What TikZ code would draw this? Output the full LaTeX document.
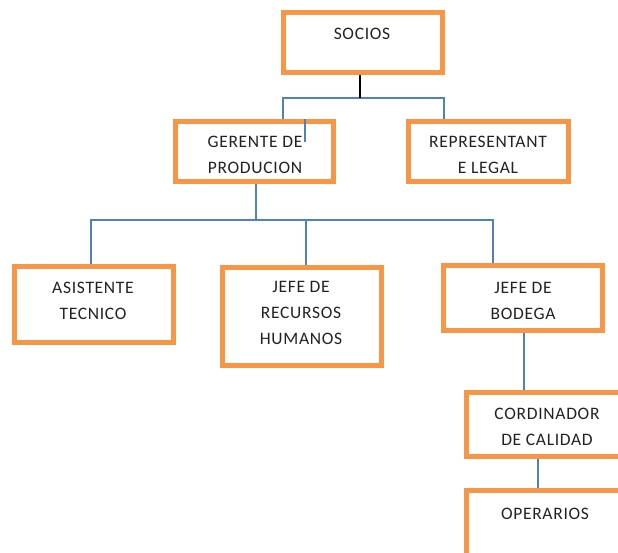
\documentclass[tikz,border=0pt]{standalone}
\usepackage{fontspec}
\setmainfont{Carlito}[LetterSpace=4]
\definecolor{boxorange}{HTML}{F79646}
\definecolor{linkblue}{HTML}{4F81BD}
\definecolor{inkgray}{HTML}{222222}
\begin{document}
\begin{tikzpicture}[x=1pt,y=-1pt,
  orgbox/.style={draw=boxorange, line width=5pt, inner sep=0pt, minimum width=159pt},
  lbl/.style={text=inkgray, align=center, inner sep=0pt, font=\fontsize{17.5}{26}\selectfont},
  conn/.style={draw=linkblue, line width=2.4pt},
  thinconn/.style={draw=linkblue, line width=1.6pt},
  topconn/.style={draw=black, line width=2.8pt}]
\useasboundingbox (0,0) rectangle (618,552);
\clip (0,0) rectangle (618,552);

% boxes
\node[orgbox, minimum height=60pt] (soc)  at (363,42.5) {};
\node[orgbox, minimum height=60pt, minimum width=158pt] (ger)  at (254.5,151.5) {};
\node[orgbox, minimum height=60pt, minimum width=160pt] (rep)  at (488.5,151.5) {};
\node[orgbox, minimum height=76pt] (asis) at (94,304.5) {};
\node[orgbox, minimum height=98pt] (rh)   at (302,316.5) {};
\node[orgbox, minimum height=65pt] (bod)  at (523,298) {};
\node[orgbox, minimum height=64pt] (cord) at (546,424.5) {};
\node[orgbox, minimum height=77pt] (oper) at (546,529) {};

% labels
\node[lbl] (tsoc)  at (362,34)    {SOCIOS};
\node[lbl] (tger)  at (255,154.5) {GERENTE DE\\PRODUCION};
\node[lbl] (trep)  at (488,154.5) {REPRESENTANT\\E LEGAL};
\node[lbl] (tasis) at (93,300.5)  {ASISTENTE\\TECNICO};
\node[lbl] (trh)   at (301,313)   {JEFE DE\\RECURSOS\\HUMANOS};
\node[lbl] (tbod)  at (523,300.5) {JEFE DE\\BODEGA};
\node[lbl] (tcord) at (547,426.5) {CORDINADOR\\DE CALIDAD};
\node[lbl] (toper) at (545,514)   {OPERARIOS};

% junction points
\coordinate (j1)  at (360,98);
\coordinate (j1l) at (283,98);
\coordinate (j1r) at (444,98);
\coordinate (g1)  at (305,142);
\coordinate (j2)  at (256,220);
\coordinate (j2l) at (91,220);
\coordinate (j2m) at (306,220);
\coordinate (j2r) at (493,220);
\coordinate (j3)  at (524,0);
\coordinate (j4)  at (538,0);

% connectors
\draw[conn] (j1l |- ger.north) -- (j1l) -- (j1);
\draw[thinconn] (j1) -- (j1r) -- (j1r |- rep.north);
\draw[topconn] (soc.south -| j1) -- (j1);
\draw[conn] (g1 |- ger.north) -- (g1);
\draw[conn] (ger.south -| j2) -- (j2);
\draw[conn] (j2l |- asis.north) -- (j2l) -- (j2);
\draw[thinconn] (j2) -- (j2r) -- (j2r |- bod.north);
\draw[conn] (j2m) -- (j2m |- rh.north);
\draw[conn] (bod.south -| j3) -- (j3 |- cord.north);
\draw[conn] (cord.south -| j4) -- (j4 |- oper.north);
\end{tikzpicture}
\end{document}
